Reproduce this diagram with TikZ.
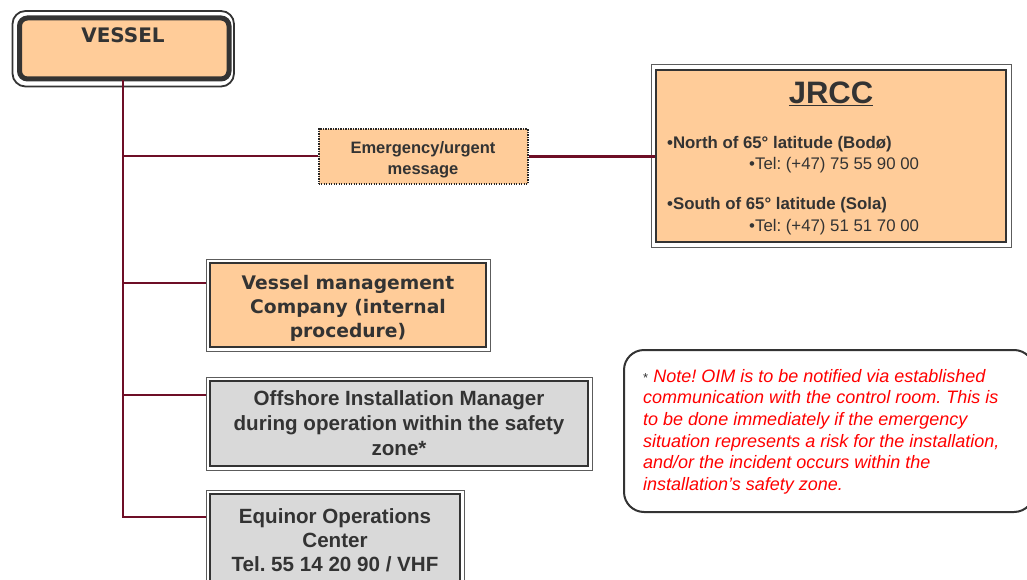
\documentclass[tikz,border=0pt]{standalone}
\usepackage{fontspec}
\setmainfont{Liberation Sans}
\newfontfamily\verd{DejaVu Sans}
\usetikzlibrary{positioning}
\definecolor{peach}{HTML}{FFCC99}
\definecolor{boxgray}{HTML}{D9D9D9}
\definecolor{txt}{HTML}{333333}
\definecolor{wine}{HTML}{6E0E26}
\definecolor{notered}{HTML}{FF0000}
\tikzset{
  conn/.style={draw=wine, line width=2.6pt},
  innerbox/.style={draw=txt, line width=2pt, align=center, text=txt, inner sep=0pt},
  outerframe/.style={draw=txt!80, line width=1pt},
  peachbox/.style={innerbox, fill=peach},
  graybox/.style={innerbox, fill=boxgray},
}
\frenchspacing
\begin{document}
\begin{tikzpicture}[x=1pt,y=-1pt]
\useasboundingbox (0,0) rectangle (1027,580);
% VESSEL
\draw[txt, line width=1.8pt, rounded corners=13pt] (12.5,11) rectangle (234,86.5);
\node[draw=txt, line width=5pt, fill=peach, rounded corners=8pt, minimum width=209.5pt, minimum height=61pt, inner sep=0pt] (vessel) at (124.25,48.5) {};
\node[text=txt, font=\verd\bfseries\fontsize{20}{24}\selectfont] (vesseltext) at (123,35) {VESSEL};
% Emergency
\node[peachbox, draw=black!85, line width=2pt, dash pattern=on 1.3pt off 1.2pt, minimum width=209pt, minimum height=55pt, font=\bfseries\fontsize{16.5}{21}\selectfont] (emerg) at (423,156.5) {\rule{0pt}{18pt}Emergency/urgent\\message};
% JRCC
\node[peachbox, minimum width=350pt, minimum height=172pt] (jrcc) at (831,156) {};
\draw[outerframe] ([shift={(-4,-4)}]jrcc.north west) rectangle ([shift={(4,4)}]jrcc.south east);
\node[text=txt, font=\bfseries\fontsize{31}{36}\selectfont] (jrcctitle) at (831,94) {\underline{JRCC}};
\node[text=txt, anchor=west, font=\bfseries\fontsize{16.8}{18}\selectfont, inner sep=0pt] (north) at (667,144) {•North of 65° latitude (Bodø)};
\node[text=txt, anchor=west, font=\fontsize{16.8}{18}\selectfont, inner sep=0pt] (tel1) at (749,165) {•Tel: (+47) 75 55 90 00};
\node[text=txt, anchor=west, font=\bfseries\fontsize{16.8}{18}\selectfont, inner sep=0pt] (south) at (667,205) {•South of 65° latitude (Sola)};
\node[text=txt, anchor=west, font=\fontsize{16.8}{18}\selectfont, inner sep=0pt] (tel2) at (749,227) {•Tel: (+47) 51 51 70 00};
% Vessel management
\node[peachbox, minimum width=276pt, minimum height=84pt, font=\verd\bfseries\fontsize{18.7}{24}\selectfont] (mgmt) at (348,305) {\rule{0pt}{20pt}Vessel management\\Company (internal\\procedure)};
\draw[outerframe] ([shift={(-3,-3)}]mgmt.north west) rectangle ([shift={(3,3)}]mgmt.south east);
% OIM
\node[graybox, minimum width=378pt, minimum height=85pt, font=\bfseries\fontsize{20.6}{25}\selectfont] (oim) at (399,423.5) {Offshore Installation Manager\\during operation within the safety\\zone*};
\draw[outerframe] ([shift={(-3,-3)}]oim.north west) rectangle ([shift={(3,3)}]oim.south east);
% Equinor
\node[graybox, minimum width=250pt, minimum height=92pt, font=\bfseries\fontsize{20.6}{24}\selectfont] (equinor) at (335,540) {Equinor Operations\\Center\\Tel. 55 14 20 90 / VHF};
\draw[outerframe] ([shift={(-3,-3)}]equinor.north west) rectangle ([shift={(3,3)}]equinor.south east);
% Trunk and branches
\coordinate (top) at (123,80);
\coordinate (b1) at (123,156);
\coordinate (b2) at (123,283);
\coordinate (b3) at (123,395);
\coordinate (b4) at (123,517);
\draw[conn] (top) -- ([yshift=-1.3pt]b4);
\draw[conn] (b1) -- (b1 -| emerg.west);
\draw[conn] (emerg.east) -- (emerg.east -| jrcc.west);
\draw[conn] (b2) -- ([xshift=-3pt]b2 -| mgmt.west);
\draw[conn] (b3) -- ([xshift=-3pt]b3 -| oim.west);
\draw[conn] (b4) -- ([xshift=-3pt]b4 -| equinor.west);
% Note
\node[draw=txt, line width=2pt, rounded corners=20pt, minimum width=410pt, minimum height=162pt, inner sep=0pt] (note) at (829,431) {};
\node[anchor=north west, align=left, inner sep=0pt, text=notered, font=\itshape\fontsize{18}{21.6}\selectfont] (notetext) at (643,369) {{\upshape\color{txt}\fontsize{13}{13}\selectfont*} Note! OIM is to be notified via established\\communication with the control room. This is\\to be done immediately if the emergency\\situation represents a risk for the installation,\\and/or the incident occurs within the\\installation’s safety zone.};
\end{tikzpicture}
\end{document}
